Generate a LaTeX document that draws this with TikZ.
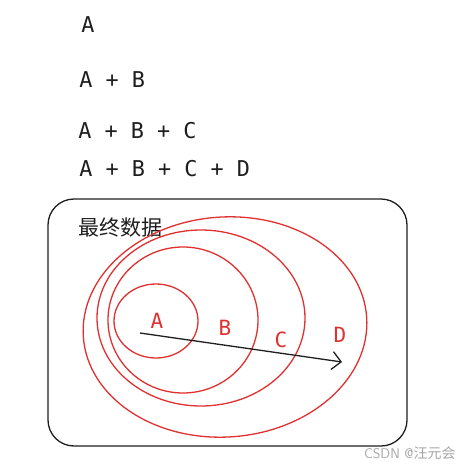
\documentclass[tikz,border=0pt]{standalone}
\usepackage{fontspec}
\setmonofont{DejaVu Sans Mono}
\newfontfamily\cjk{Noto Sans CJK SC}
\usetikzlibrary{arrows.meta}
\definecolor{sketchred}{HTML}{E03131}
\definecolor{ink}{HTML}{1E1E1E}

\begin{document}
\begin{tikzpicture}[x=1pt, y=-1pt, thick,
  sum/.style = {anchor=west, inner sep=0pt, font=\ttfamily\fontsize{21.8}{26}\selectfont, text=ink},
  part/.style = {inner sep=0pt, font=\ttfamily\fontsize{21}{24}\selectfont, text=sketchred},
  ring/.style = {draw=sketchred, line width=1.3pt}]
\useasboundingbox (0,0) rectangle (469,471);
% sums
\node[sum] (s1) at (81,25) {A};
\node[sum] (s2) at (79,80) {A + B};
\node[sum] (s3) at (78,131) {A + B + C};
\node[sum] (s4) at (79,169) {A + B + C + D};
% frame
\draw[ink, line width=1.3pt, rounded corners=26] (48,199) rectangle (407,446);
\node[anchor=west, inner sep=0pt, font=\cjk\fontsize{21}{24}\selectfont, text=ink] (title) at (78,228) {最终数据};
% rings
\draw[ring] (156,321) ellipse [x radius=42, y radius=37];
\draw[ring] (183,320) ellipse [x radius=75, y radius=73];
\draw[ring] (201,318) ellipse [x radius=104, y radius=88];
\draw[ring, rotate around={4:(225,327)}] (225,327) ellipse [x radius=142, y radius=110];
\node[part] (a) at (157,321) {A};
\node[part] (b) at (225,328) {B};
\node[part] (c) at (281,340) {C};
\node[part] (d) at (340,335) {D};
% arrow
\coordinate (start) at (140,333);
\coordinate (end) at (342,362);
\draw[ink, line width=1.3pt, -{Straight Barb[length=9pt, width=18pt]}] (start) -- (end);
% watermark
\node[anchor=east, inner sep=0pt, font=\sffamily\fontsize{14}{16}\selectfont, text=gray!70] (mark) at (456,453) {CSDN @{\cjk 汪元会}};
\end{tikzpicture}
\end{document}
